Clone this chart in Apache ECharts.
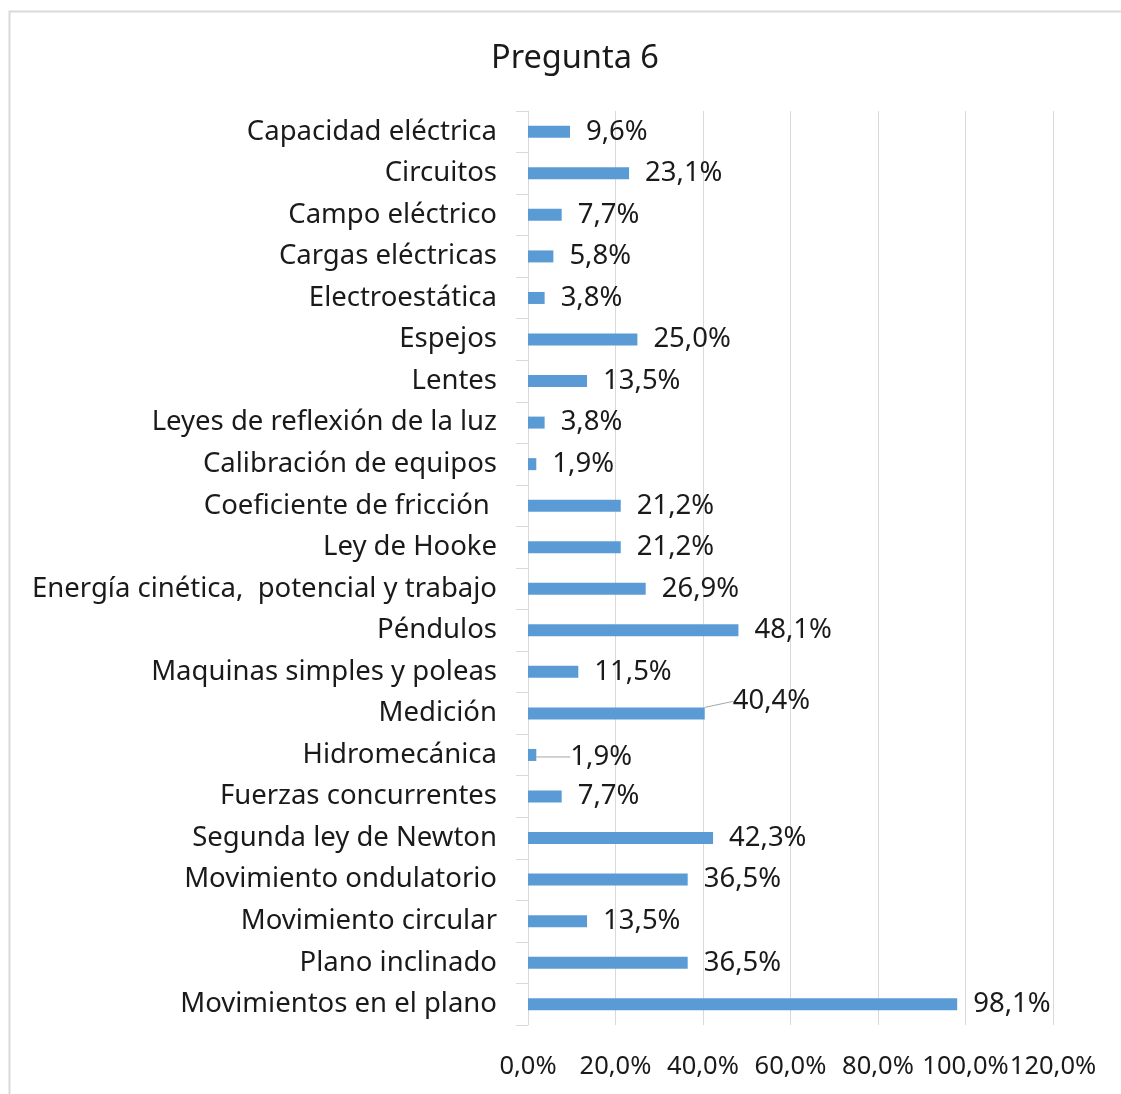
<!DOCTYPE html>
<html lang="es">
  <head>
    <meta charset="UTF-8" />
    <title>Pregunta 6</title>
    <script src="https://cdn.jsdelivr.net/npm/echarts@6.0.0/dist/echarts.min.js"></script>
    <style>
      html, body { margin: 0; padding: 0; background: #fff; }
      #main { width: 1121px; height: 1094px; }
    </style>
  </head>
  <body>
    <div id="main"></div>
    <script>
      const temas = [
        'Capacidad eléctrica', 'Circuitos', 'Campo eléctrico', 'Cargas eléctricas',
        'Electroestática', 'Espejos', 'Lentes', 'Leyes de reflexión de la luz',
        'Calibración de equipos', 'Coeficiente de fricción ', 'Ley de Hooke',
        'Energía cinética,  potencial y trabajo', 'Péndulos', 'Maquinas simples y poleas',
        'Medición', 'Hidromecánica', 'Fuerzas concurrentes', 'Segunda ley de Newton',
        'Movimiento ondulatorio', 'Movimiento circular', 'Plano inclinado',
        'Movimientos en el plano'
      ]
      const porcentajes = [
        0.096, 0.231, 0.077, 0.058, 0.038, 0.25, 0.135, 0.038, 0.019, 0.212, 0.212,
        0.269, 0.481, 0.115, 0.404, 0.019, 0.077, 0.423, 0.365, 0.135, 0.365, 0.981
      ]
      // etiquetas movidas a mano en el original (con línea guía)
      const movidas = ['Medición', 'Hidromecánica']

      const fmt = (v, d) => (v * 100).toFixed(d).replace('.', ',') + '%'
      const fuente = 'Noto Sans'
      const tam = 27.5

      const chart = echarts.init(document.getElementById('main'))
      chart.setOption({
        animation: false,
        title: {
          text: 'Pregunta 6',
          left: 570,
          textAlign: 'center',
          top: 37,
          textStyle: { fontFamily: fuente, fontSize: 32.5, fontWeight: 'normal', color: '#1a1a1a' }
        },
        graphic: [{
          type: 'rect',
          shape: { x: 9.5, y: 11.5, width: 1200, height: 1200 },
          style: { fill: 'none', stroke: '#d9d9d9', lineWidth: 2 },
          silent: true
        }],
        grid: { left: 528, right: 68, top: 111, bottom: 69 },
        xAxis: {
          type: 'value',
          min: 0,
          max: 1.2,
          interval: 0.2,
          axisLine: { show: false },
          axisTick: { show: false },
          splitLine: { lineStyle: { color: '#d9d9d9', width: 1 } },
          axisLabel: {
            margin: 29,
            showMinLabel: true,
            showMaxLabel: true,
            hideOverlap: false,
            formatter: (v) => fmt(v, 1),
            fontFamily: fuente,
            fontSize: 25.5,
            color: '#1a1a1a'
          }
        },
        yAxis: {
          type: 'category',
          inverse: true,
          data: temas,
          axisLine: { show: true, lineStyle: { color: '#d9d9d9', width: 1 } },
          axisTick: { show: true, length: 12, lineStyle: { color: '#d9d9d9' } },
          axisLabel: {
            margin: 31,
            fontFamily: fuente,
            fontSize: tam,
            color: '#1a1a1a'
          }
        },
        series: [{
          type: 'bar',
          data: porcentajes.map((v, i) => ({
            value: v,
            labelLine: { show: movidas.includes(temas[i]) }
          })),
          barWidth: 12,
          itemStyle: { color: '#5b9bd5' },
          label: {
            show: true,
            position: 'right',
            distance: 16,
            offset: [0, 2],
            formatter: (p) => fmt(p.value, 1),
            fontFamily: fuente,
            fontSize: tam,
            color: '#1a1a1a'
          },
          labelLine: { lineStyle: { color: '#a6a6a6', width: 1 } },
          labelLayout: (p) => {
            const nombre = temas[p.dataIndex]
            if (nombre === 'Medición') return { dx: 12, dy: -12 }
            if (nombre === 'Hidromecánica') return { dx: 18, dy: 2 }
            return {}
          }
        }]
      })
    </script>
  </body>
</html>
